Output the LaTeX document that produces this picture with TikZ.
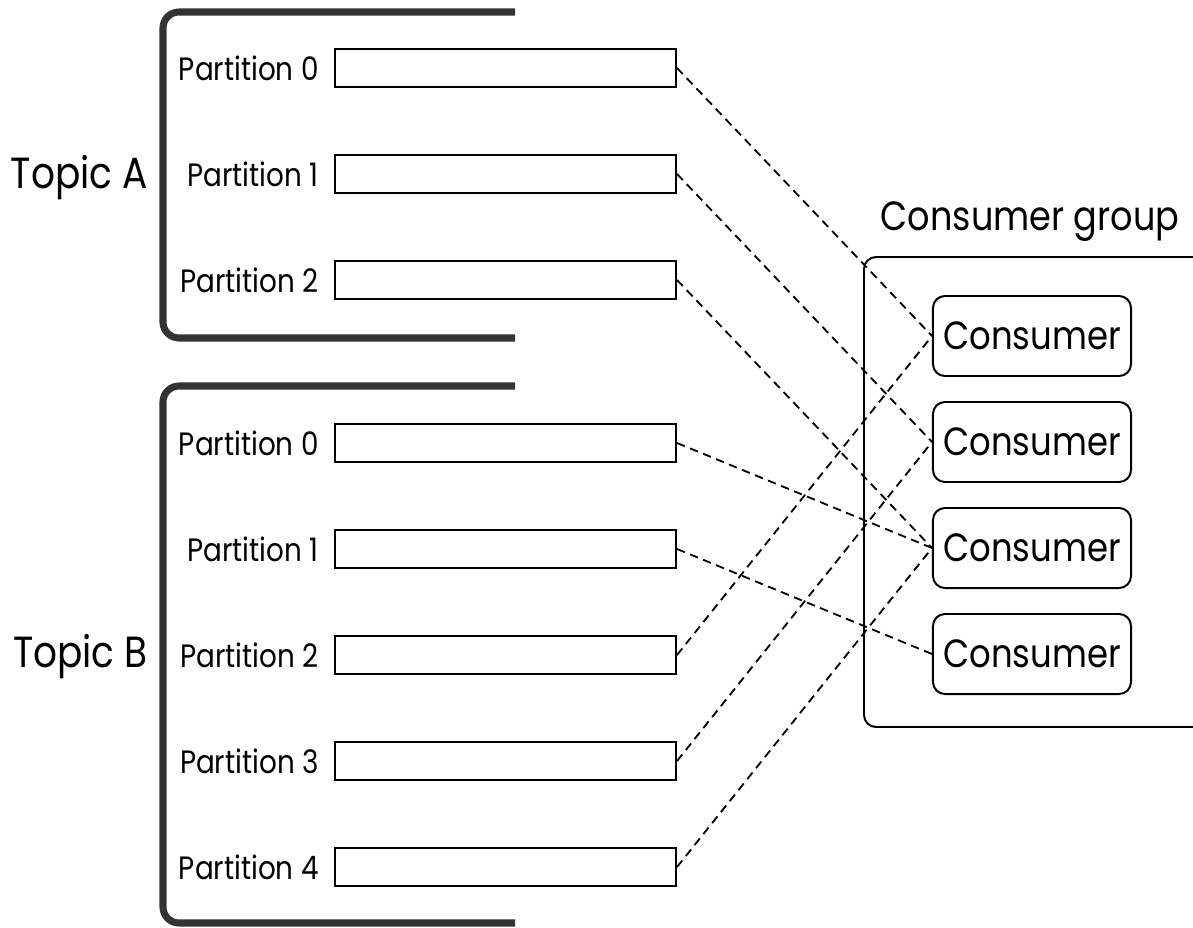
\documentclass[tikz,border=0pt]{standalone}
\usepackage{fontspec}
\setmainfont{Poppins}[FakeStretch=0.86]
\usepackage{tikz}
\usetikzlibrary{positioning,calc}
\tikzstyle{part} = [draw, line width=1.4pt, minimum width=8.525cm, minimum height=0.95cm, inner sep=0pt]
\tikzstyle{partlbl} = [inner sep=0pt, font=\fontsize{23}{27}\selectfont]
\tikzstyle{cons} = [draw, line width=1.4pt, rounded corners=0.3cm, minimum width=4.95cm, minimum height=2cm, inner sep=0pt, font=\fontsize{28}{33}\selectfont]
\tikzstyle{bigtxt} = [inner sep=0pt, font=\fontsize{31}{36}\selectfont]
\tikzstyle{brace} = [line width=5pt, draw=black!80, rounded corners=0.4cm]
\tikzstyle{link} = [line width=1.3pt, dash pattern=on 6pt off 4pt]

\begin{document}
\begin{tikzpicture}[x=0.025cm,y=-0.025cm]
\useasboundingbox (0,0) rectangle (1193,928);
% topics
\draw[brace] (515,12) -- (163,12) -- (163,338) -- (515,338);
\draw[brace] (515,386) -- (163,386) -- (163,923) -- (515,923);
\node[bigtxt, anchor=east] (ta) at (148,178) {Topic A};
\node[bigtxt, anchor=east] (tb) at (148,657) {Topic B};
% partitions
\node[part] (a0) at (505.5,68) {};
\node[part] (a1) at (505.5,174) {};
\node[part] (a2) at (505.5,280) {};
\node[part] (b0) at (505.5,443) {};
\node[part] (b1) at (505.5,549) {};
\node[part] (b2) at (505.5,655) {};
\node[part] (b3) at (505.5,761) {};
\node[part] (b4) at (505.5,867) {};
\node[partlbl, left=0.375cm of a0] {Partition 0};
\node[partlbl, left=0.375cm of a1] {Partition 1};
\node[partlbl, left=0.375cm of a2] {Partition 2};
\node[partlbl, left=0.375cm of b0] {Partition 0};
\node[partlbl, left=0.375cm of b1] {Partition 1};
\node[partlbl, left=0.375cm of b2] {Partition 2};
\node[partlbl, left=0.375cm of b3] {Partition 3};
\node[partlbl, left=0.375cm of b4] {Partition 4};
% consumer group
\draw[line width=1.4pt, rounded corners=0.3cm] (1215,257) -- (864,257) -- (864,727) -- (1215,727);
\node[bigtxt, font=\fontsize{29}{34}\selectfont] (grp) at (1030,222) {Consumer group};
\node[cons] (c1) at (1032,336) {Consumer};
\node[cons] (c2) at (1032,442) {Consumer};
\node[cons] (c3) at (1032,548) {Consumer};
\node[cons] (c4) at (1032,654) {Consumer};
% assignments
\draw[link] (a0.east) -- (c1.west);
\draw[link] (a1.east) -- (c2.west);
\draw[link] (a2.east) -- (c3.west);
\draw[link] (b0.east) -- (c3.west);
\draw[link] (b1.east) -- (c4.west);
\draw[link] (b2.east) -- (c1.west);
\draw[link] (b3.east) -- (c2.west);
\draw[link] (b4.east) -- (c3.west);
\end{tikzpicture}
\end{document}
